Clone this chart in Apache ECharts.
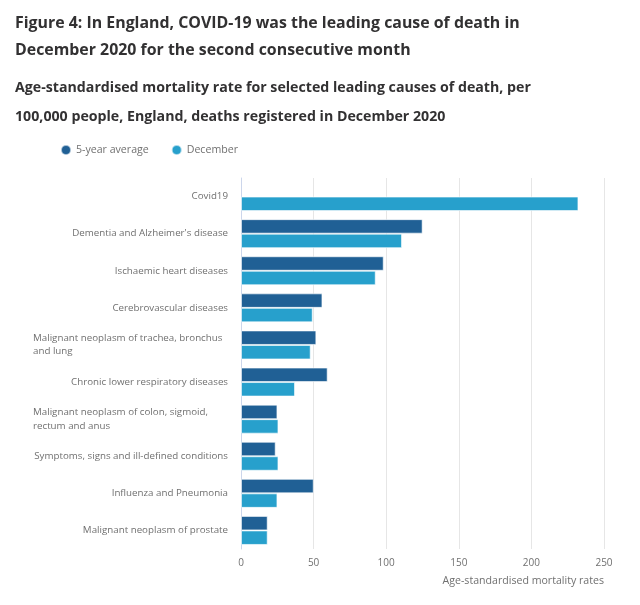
<!DOCTYPE html>
<html>
<head>
<meta charset="utf-8">
<script src="https://cdn.jsdelivr.net/npm/echarts@6/dist/echarts.min.js"></script>
<style>
  html, body { margin: 0; padding: 0; background: #fff; }
  #chart { width: 640px; height: 605px; }
</style>
</head>
<body>
<div id="chart"></div>
<script>
// causes of death, top to bottom
let causes = [
    'Covid19',
    'Dementia and Alzheimer\'s disease',
    'Ischaemic heart diseases',
    'Cerebrovascular diseases',
    'Malignant neoplasm of trachea, bronchus\nand lung',
    'Chronic lower respiratory diseases',
    'Malignant neoplasm of colon, sigmoid,\nrectum and anus',
    'Symptoms, signs and ill-defined conditions',
    'Influenza and Pneumonia',
    'Malignant neoplasm of prostate'
];
let fiveYearAverage = [null, 125.1, 98.3, 56.1, 51.9, 59.7, 25.1, 23.9, 50.1, 18.4];
let december = [232.4, 110.9, 92.8, 49.4, 48.0, 37.2, 25.8, 25.8, 25.1, 18.4];
let xTicks = [0, 50, 100, 150, 200, 250];

let colors = ['#206095', '#27a0cc'];
let font = '"Open Sans", sans-serif';

let myChart = echarts.init(document.getElementById('chart'));

let option = {
    color: colors,
    textStyle: { fontFamily: font },
    title: [
        {
            text: 'Figure 4: In England, COVID-19 was the leading cause of death in\nDecember 2020 for the second consecutive month',
            left: 15,
            top: 10,
            padding: 0,
            textStyle: { fontFamily: font, fontSize: 15.9, fontWeight: 'bold', color: '#323132', lineHeight: 27 }
        },
        {
            text: 'Age-standardised mortality rate for selected leading causes of death, per\n100,000 people, England, deaths registered in December 2020',
            left: 15,
            top: 73,
            padding: 0,
            textStyle: { fontFamily: font, fontSize: 14.2, fontWeight: 'bold', color: '#323132', lineHeight: 29 }
        }
    ],
    legend: {
        data: ['5-year average', 'December'],
        left: 60,
        top: 144,
        padding: 0,
        icon: 'circle',
        itemWidth: 10,
        itemHeight: 10,
        itemGap: 22,
        textStyle: { fontFamily: font, fontSize: 10.6, color: '#707070' }
    },
    grid: {
        left: 241,
        right: 36,
        top: 178,
        bottom: 56
    },
    xAxis: {
        type: 'value',
        min: xTicks[0],
        max: xTicks[xTicks.length - 1],
        interval: 50,
        axisLine: { show: false },
        axisTick: { show: false },
        axisLabel: { fontFamily: font, fontSize: 10, color: '#707070', margin: 9 },
        splitLine: { lineStyle: { color: '#e6e6e6', width: 1 } },
        name: 'Age-standardised mortality rates',
        nameLocation: 'end',
        nameGap: 0,
        nameTextStyle: {
            fontFamily: font, fontSize: 10.6, color: '#707070',
            align: 'right', verticalAlign: 'top', padding: [26, 0, 0, 0]
        }
    },
    yAxis: {
        type: 'category',
        inverse: true,
        data: causes,
        axisLine: { lineStyle: { color: '#ccd6eb' } },
        axisTick: { length: 8, lineStyle: { color: '#ccd6eb' } },
        splitLine: { show: false },
        axisLabel: {
            fontFamily: font,
            fontSize: 9.75,
            color: '#707070',
            margin: 13,
            lineHeight: 13.5,
            formatter: function (value) {
                if (value.indexOf('\n') < 0) return value;
                // wrapped labels are left aligned in a fixed box
                return value.split('\n').map(function (s) { return '{w|' + s + '}'; }).join('\n');
            },
            rich: {
                w: { width: 195, align: 'left', fontFamily: font, fontSize: 9.75, color: '#707070', lineHeight: 13.5 }
            }
        }
    },
    series: [
        {
            name: '5-year average',
            type: 'bar',
            barWidth: 14.5,
            barGap: '0%',
            itemStyle: { borderColor: 'rgba(255,255,255,0.6)', borderWidth: 1 },
            data: fiveYearAverage
        },
        {
            name: 'December',
            type: 'bar',
            barWidth: 14.5,
            barGap: '0%',
            itemStyle: { borderColor: 'rgba(255,255,255,0.6)', borderWidth: 1 },
            data: december
        }
    ]
};

myChart.setOption(option);
window.addEventListener('resize', function () {
    myChart.resize();
});
</script>
</body>
</html>
